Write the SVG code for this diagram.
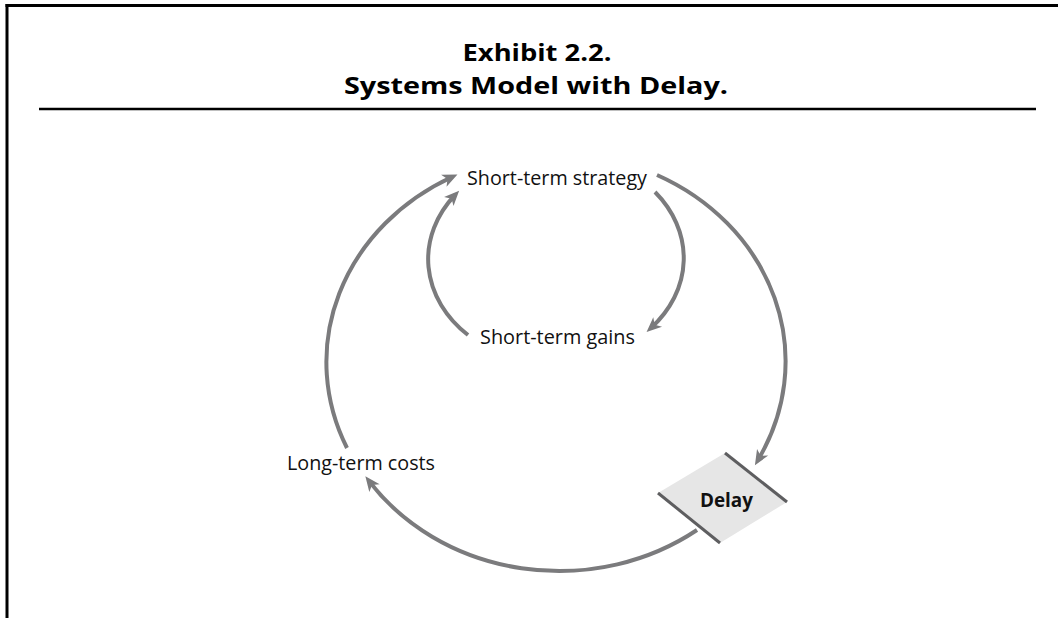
<svg xmlns="http://www.w3.org/2000/svg" width="1058" height="618" viewBox="0 0 1058 618">
<style>
.frame{stroke:#000;fill:none}
.title{font-family:"Open Sans","Liberation Sans",sans-serif;font-weight:700;font-size:24px;fill:#000;text-anchor:middle}
.lbl{font-family:"Open Sans","Liberation Sans",sans-serif;font-size:20px;fill:#111}
.bold{font-weight:700}
.arc{fill:none;stroke:#7b7b7d;stroke-width:4}
</style>
<defs>
<marker id="ah" markerUnits="userSpaceOnUse" viewBox="-12 -9 20 18" refX="0" refY="0" markerWidth="20" markerHeight="18" orient="auto">
<path d="M 6 0 L -9 -6.5 L -5 0 L -9 6.5 Z" fill="#7b7b7d"/>
</marker>
</defs>
<rect width="1058" height="618" fill="#fff"/>
<g id="frame">
<line class="frame" x1="5.5" y1="5.5" x2="1058" y2="5.5" stroke-width="3"/>
<line class="frame" x1="7" y1="4" x2="7" y2="618" stroke-width="3"/>
<line class="frame" x1="39" y1="109" x2="1036" y2="109" stroke-width="2.5"/>
</g>
<g id="title">
<text class="title" x="537" y="61" textLength="149" lengthAdjust="spacingAndGlyphs">Exhibit 2.2.</text>
<text class="title" x="536" y="94" textLength="384" lengthAdjust="spacingAndGlyphs">Systems Model with Delay.</text>
</g>
<g id="connectors">
<path class="arc" d="M 347 448 A 231 208 0 0 1 452 177" marker-end="url(#ah)"/>
<path class="arc" d="M 657 175 A 231 208 0 0 1 758 460" marker-end="url(#ah)"/>
<path class="arc" d="M 697 530 A 231 208 0 0 1 369 481" marker-end="url(#ah)"/>
<path class="arc" d="M 468 335 A 129 105 0 0 1 455 195" marker-end="url(#ah)"/>
<path class="arc" d="M 655 192 A 129 105 0 0 1 651 328" marker-end="url(#ah)"/>
</g>
<g id="node-strategy">
<text class="lbl" x="467" y="185" textLength="180" lengthAdjust="spacingAndGlyphs">Short-term strategy</text>
</g>
<g id="node-gains">
<text class="lbl" x="480" y="344" textLength="155" lengthAdjust="spacingAndGlyphs">Short-term gains</text>
</g>
<g id="node-costs">
<text class="lbl" x="287" y="470" textLength="148" lengthAdjust="spacingAndGlyphs">Long-term costs</text>
</g>
<g id="node-delay">
<polygon points="725,453 787,502 720,543 658,493" fill="#e6e6e6"/>
<line x1="725" y1="453" x2="787" y2="502" stroke="#5e5e60" stroke-width="3"/>
<line x1="658" y1="493" x2="720" y2="543" stroke="#5e5e60" stroke-width="3"/>
<text class="lbl bold" x="700" y="507" textLength="53" lengthAdjust="spacingAndGlyphs" fill="#000">Delay</text>
</g>
</svg>
